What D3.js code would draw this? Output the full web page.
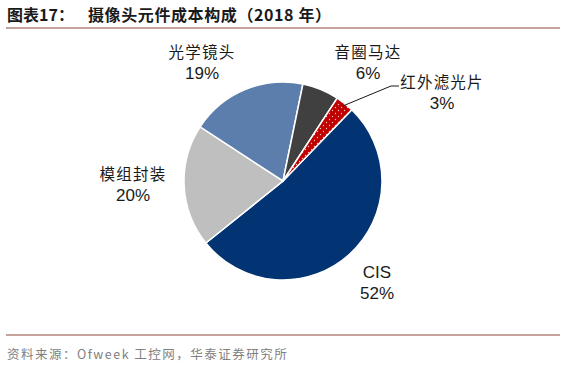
<!DOCTYPE html>
<html>
<head>
<meta charset="utf-8">
<script src="https://cdn.jsdelivr.net/npm/d3@7"></script>
<style>
  body { margin: 0; background: #fff; }
  svg { display: block; font-family: "Noto Sans CJK SC", "Liberation Sans", sans-serif; }
</style>
</head>
<body>
<div id="chart"></div>
<script>
// data
const categories = ["CIS", "模组封装", "光学镜头", "音圈马达", "红外滤光片"];
const shares = [52, 20, 19, 6, 3];
const sliceColors = ["#023474", "#bfbfbf", "#5b7ead", "#404040", "#c00000"];

const W = 565, H = 371;
const cx = 283, cy = 181, radius = 99;

const svg = d3.select("#chart").append("svg")
  .attr("width", W)
  .attr("height", H);

// dotted fill for the small red slice
const pat = svg.append("defs").append("pattern")
  .attr("id", "dots")
  .attr("width", 6).attr("height", 6)
  .attr("patternUnits", "userSpaceOnUse");
pat.append("rect").attr("width", 6).attr("height", 6).attr("fill", "#c00000");
pat.append("circle").attr("cx", 1.5).attr("cy", 1.5).attr("r", 0.7).attr("fill", "#f3c0c0");
pat.append("circle").attr("cx", 4.5).attr("cy", 4.5).attr("r", 0.7).attr("fill", "#f3c0c0");

// title
const title = svg.append("text")
  .attr("x", 7).attr("y", 21)
  .attr("font-size", 16).attr("font-weight", "bold")
  .attr("fill", "#1a1a1a");
title.append("tspan").text("图表17：");
title.append("tspan").attr("x", 88).attr("letter-spacing", 0.6).text("摄像头元件成本构成（2018 年）");

svg.append("line")
  .attr("x1", 6).attr("x2", 560).attr("y1", 28).attr("y2", 28)
  .attr("stroke", "#8c4a3e").attr("stroke-width", 1.2);

svg.append("line")
  .attr("x1", 6).attr("x2", 560).attr("y1", 335).attr("y2", 335)
  .attr("stroke", "#8c4a3e").attr("stroke-width", 1.2);

svg.append("text")
  .attr("x", 7).attr("y", 359)
  .attr("font-size", 12.5).attr("fill", "#808080")
  .attr("letter-spacing", 1.5)
  .text("资料来源：Ofweek 工控网，华泰证券研究所");

// pie
const startDeg = 44;
const pie = d3.pie()
  .sort(null)
  .value((d) => d)
  .startAngle(startDeg * Math.PI / 180)
  .endAngle((startDeg + 360) * Math.PI / 180);

const arc = d3.arc().innerRadius(0).outerRadius(radius);
const arcs = pie(shares);

const g = svg.append("g").attr("transform", `translate(${cx},${cy})`);

g.selectAll("path")
  .data(arcs)
  .enter()
  .append("path")
  .attr("d", arc)
  .attr("fill", (d, i) => (i === 4 ? "url(#dots)" : sliceColors[i]))
  .attr("stroke", "#fff")
  .attr("stroke-width", 1.5);

// labels (name on first line, percent on second)
const labelPos = [
  { x: 377, y: 278 },
  { x: 133, y: 180 },
  { x: 202, y: 58 },
  { x: 368, y: 58 },
  { x: 442, y: 88 },
];

labelPos.forEach((p, i) => {
  svg.append("text")
    .attr("x", p.x).attr("y", p.y)
    .attr("text-anchor", "middle")
    .attr("font-size", i === 0 ? 17 : 15.5)
    .attr("letter-spacing", i === 0 ? 0 : 1.2)
    .attr("font-family", i === 0 ? "'Liberation Sans', Arial, sans-serif" : null)
    .attr("fill", "#1a1a1a")
    .text(categories[i]);
  svg.append("text")
    .attr("x", p.x).attr("y", p.y + 21)
    .attr("text-anchor", "middle")
    .attr("font-size", 17)
    .attr("font-family", "'Liberation Sans', Arial, sans-serif")
    .attr("fill", "#1a1a1a")
    .text(shares[i] + "%");
});

// leader line for the small slice
const redMid = (arcs[4].startAngle + arcs[4].endAngle) / 2;
const r0 = radius * 0.97;
const lx = cx + Math.sin(redMid) * r0, ly = cy - Math.cos(redMid) * r0;
svg.append("polyline")
  .attr("points", `${lx},${ly} ${391},${86} ${399},${86}`)
  .attr("fill", "none")
  .attr("stroke", "#1a1a1a")
  .attr("stroke-width", 1);
</script>
</body>
</html>
